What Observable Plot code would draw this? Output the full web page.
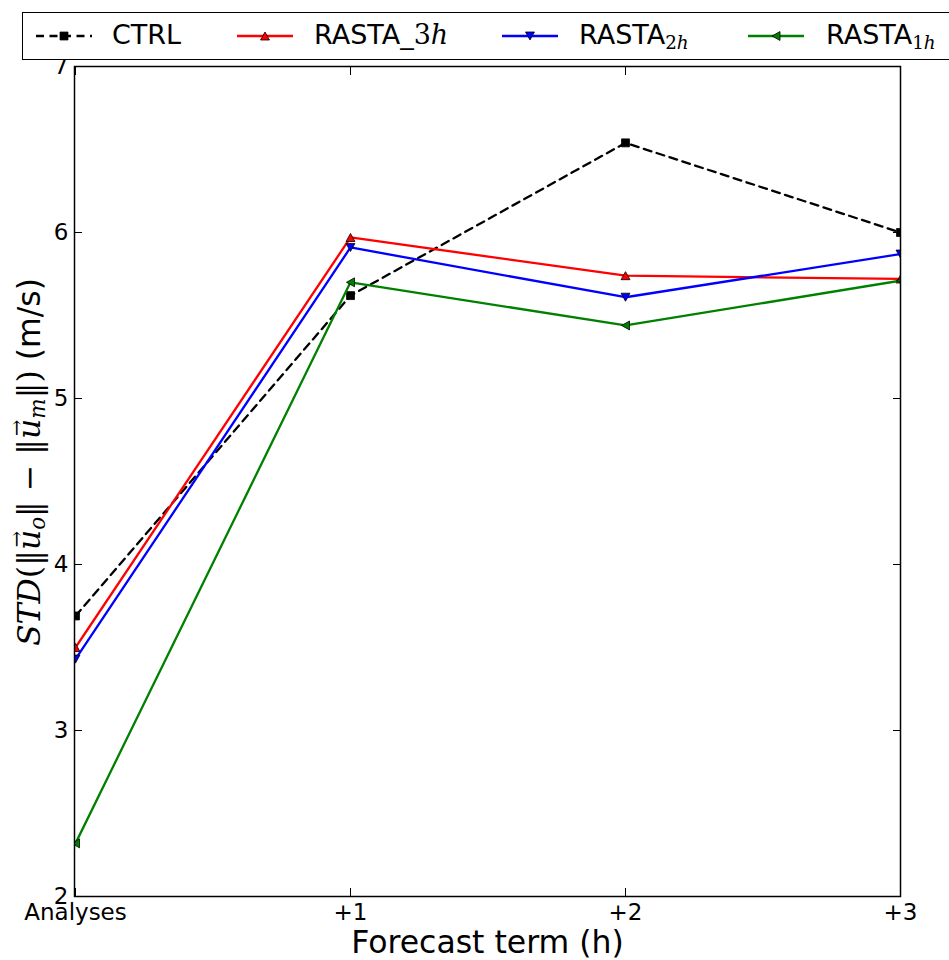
<!DOCTYPE html>
<html><head><meta charset="utf-8">
<script src="https://cdn.jsdelivr.net/npm/d3@7"></script>
<script src="https://cdn.jsdelivr.net/npm/@observablehq/plot@0.6"></script>
<style>
body{margin:0;background:#fff;font-family:"DejaVu Sans",sans-serif}
#wrap{position:relative;width:949px;height:960px;overflow:hidden}
#legend{position:absolute;left:22px;top:12px;width:940px;height:48px;border:1.5px solid #000;background:#fff;box-sizing:border-box}
.item-svg{position:absolute;top:11px}
.item-txt{position:absolute;top:6px;font-size:27px;line-height:32px;white-space:nowrap;color:#000}
.m{font-family:"DejaVu Serif",serif}
.m i{font-style:italic}
.m sub{font-size:0.68em;vertical-align:-0.25em;line-height:0}
#ylabel{position:absolute;left:29px;top:462px;transform:translate(-50%,-50%) rotate(-90deg);white-space:nowrap;font-size:31.5px;line-height:40px}
.vec{position:relative;display:inline-block}
.vec::after{content:"\2192";position:absolute;left:0.15em;top:-0.62em;font-size:0.62em;font-style:normal}
</style></head>
<body><div id="wrap"></div>
<script>
// ---- data ----
const terms = ["Analyses", "+1", "+2", "+3"];
const seriesNames = ["CTRL", "RASTA_3h", "RASTA_2h", "RASTA_1h"];
const ctrl    = [3.69, 5.62, 6.54, 6.00];
const rasta3h = [3.50, 5.97, 5.74, 5.72];
const rasta2h = [3.43, 5.91, 5.61, 5.87];
const rasta1h = [2.32, 5.70, 5.44, 5.71];
const yTicks  = [2, 3, 4, 5, 6, 7];
const xLabel = "Forecast term (h)";

// ---- styles ----
const seriesValues = [ctrl, rasta3h, rasta2h, rasta1h];
const colors = ["#000000", "#ff0000", "#0000ff", "#008000"];
const dashes = ["8,5.5", null, null, null];

function tri(dir) {
  return {draw(ctx, size) {
    const s = Math.sqrt(size) * 0.63, h = s * 0.9;
    if (dir === "up") { ctx.moveTo(-s, h); ctx.lineTo(s, h); ctx.lineTo(0, -h); }
    else if (dir === "down") { ctx.moveTo(-s, -h); ctx.lineTo(s, -h); ctx.lineTo(0, h); }
    else { ctx.moveTo(h, -s); ctx.lineTo(h, s); ctx.lineTo(-h, 0); }
    ctx.closePath();
  }};
}
const square = {draw(ctx, size) { const s = Math.sqrt(size) * 0.56; ctx.rect(-s, -s, 2 * s, 2 * s); }};
const symbols = [square, tri("up"), tri("down"), tri("left")];

const rows = seriesNames.flatMap((s, i) => seriesValues[i].map((v, j) => ({series: s, si: i, term: terms[j], value: v})));

const marks = [];
seriesNames.forEach((s, i) => {
  const d = rows.filter(r => r.si === i);
  marks.push(Plot.line(d, {x: "term", y: "value", stroke: colors[i], strokeWidth: 2.3, strokeDasharray: dashes[i] || undefined, clip: true}));
  marks.push(Plot.dot(d, {x: "term", y: "value", symbol: () => symbols[i], r: 4, fill: colors[i], stroke: "#000", strokeWidth: 0.8, clip: true}));
});

const chart = Plot.plot({
  width: 949, height: 960,
  marginLeft: 74, marginRight: 49, marginTop: 66, marginBottom: 64,
  style: {fontFamily: "DejaVu Sans", background: "#fff", color: "#000"},
  x: {type: "point", domain: terms, padding: 0},
  y: {domain: [2, 7]},
  marks: [
    ...marks,
    Plot.frame({stroke: "#000", strokeWidth: 1.5}),
    Plot.axisX({anchor: "bottom", tickSize: -8, tickPadding: 15, fontSize: 23, label: null}),
    Plot.axisX({anchor: "top", tickSize: -8, tickFormat: () => "", label: null}),
    Plot.axisY(yTicks, {anchor: "left", tickSize: -8, tickPadding: 14, fontSize: 23, tickFormat: d3.format("d"), label: null}),
    Plot.axisY(yTicks, {anchor: "right", tickSize: -8, tickFormat: () => "", label: null}),
    Plot.text([xLabel], {frameAnchor: "bottom", dy: 46, fontSize: 31.5, lineAnchor: "middle"})
  ]
});
const wrap = document.getElementById("wrap");
wrap.appendChild(chart);

// y label
const yl = document.createElement("div");
yl.id = "ylabel";
yl.innerHTML = '<span class="m"><i>STD</i>(‖<span class="vec"><i>u</i></span><sub><i>o</i></sub>‖ − ‖<span class="vec"><i>u</i></span><sub><i>m</i></sub>‖)</span> (m/s)';
wrap.appendChild(yl);

// legend
const lg = document.createElement("div");
lg.id = "legend";
wrap.appendChild(lg);
const lineX = [12, 213, 478, 724];
const textX = [89, 291, 556, 803];
function labelHTML(name) {
  const [base, sub] = name.split("_");
  if (!sub) return base;
  const m = sub.match(/(\d)(\w)/);
  if (name === seriesNames[1]) return base + '_<span class="m">' + m[1] + '<i>' + m[2] + '</i></span>';
  return base + '<span class="m"><sub>' + m[1] + '<i>' + m[2] + '</i></sub></span>';
}
seriesNames.forEach((s, i) => {
  const svg = d3.create("svg").attr("class", "item-svg").attr("width", 58).attr("height", 24)
    .style("left", lineX[i] + "px");
  svg.append("line").attr("x1", 1).attr("x2", 57).attr("y1", 12).attr("y2", 12)
    .attr("stroke", colors[i]).attr("stroke-width", 2.3).attr("stroke-dasharray", dashes[i]);
  svg.append("path").attr("transform", "translate(29,12)")
    .attr("d", d3.symbol(symbols[i], 50)()).attr("fill", colors[i]).attr("stroke", "#000").attr("stroke-width", 0.8);
  lg.appendChild(svg.node());
  const t = document.createElement("div");
  t.className = "item-txt";
  t.style.left = textX[i] + "px";
  t.innerHTML = labelHTML(s);
  lg.appendChild(t);
});
</script>
</body></html>
